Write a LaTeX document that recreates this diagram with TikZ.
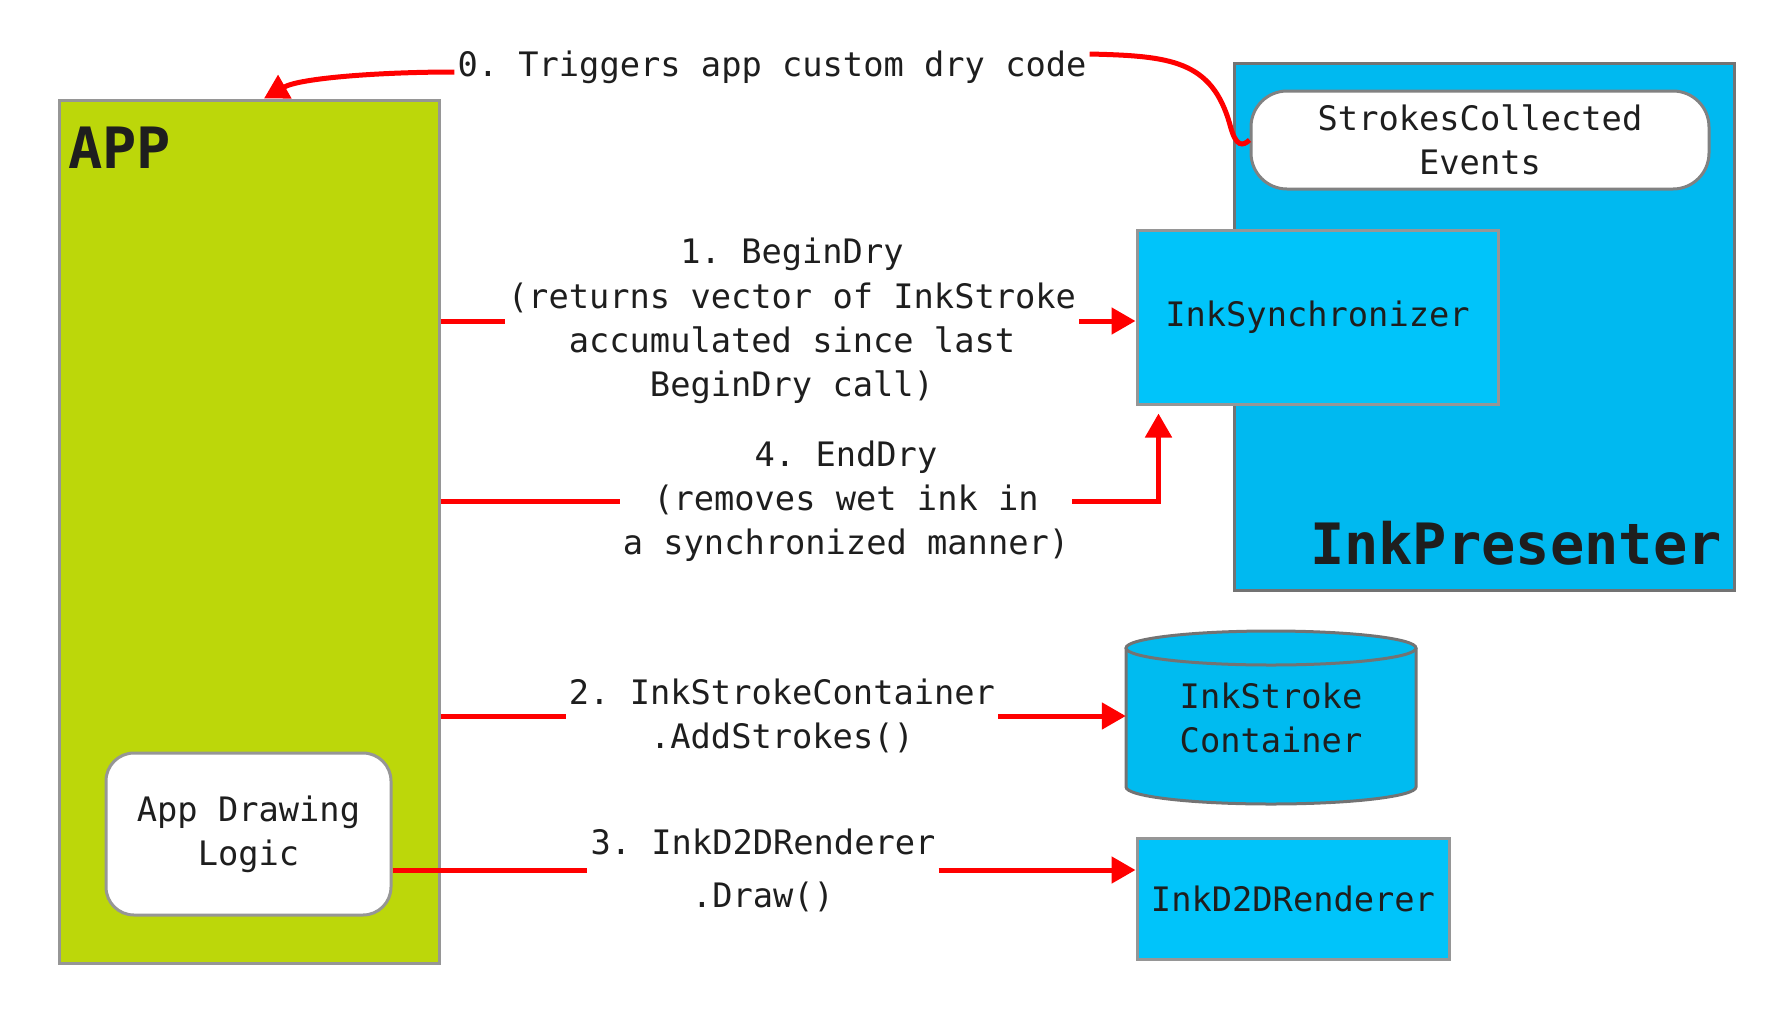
\documentclass[tikz,border=0pt]{standalone}
\usepackage{fontspec}
\setmonofont{DejaVu Sans Mono}
\usetikzlibrary{arrows.meta,calc}
\definecolor{appgreen}{RGB}{188,215,10}
\definecolor{ipblue}{RGB}{0,185,240}
\definecolor{boxblue}{RGB}{0,196,250}
\definecolor{cylblue}{RGB}{0,187,240}
\definecolor{bordergray}{RGB}{150,150,150}
\definecolor{darkgray}{RGB}{115,115,115}
\definecolor{txt}{RGB}{30,30,30}
\begin{document}
\begin{tikzpicture}[x=1pt,y=-1pt,
  mono/.style={font=\ttfamily\fontsize{33.7}{44.3}\selectfont, text=txt, align=center},
  big/.style={font=\ttfamily\bfseries\fontsize{57}{60}\selectfont, text=txt, inner sep=0pt},
  lbl/.style={mono, inner sep=3pt},
  box/.style={draw=bordergray, line width=3pt, inner sep=0pt, mono},
  conn/.style={draw=red, line width=5pt},
  arr/.style={conn, -{Triangle[length=24pt,width=26pt]}}
]
\useasboundingbox (0,0) rectangle (1783,1018);

% APP container
\node[box, fill=appgreen, minimum width=380pt, minimum height=863pt] (app) at (249,531.5) {};
\node[big, anchor=west] (applbl) at (68,148) {APP};
\node[box, fill=white, rounded corners=28pt, minimum width=285pt, minimum height=162pt] (adl) at (248.5,834) {App Drawing\\Logic};

% InkPresenter container
\node[box, draw=darkgray, fill=ipblue, minimum width=500pt, minimum height=527pt] (ip) at (1484,326.5) {};
\node[big, anchor=east] (iplbl) at (1722,543) {InkPresenter};
\node[box, draw=darkgray!90, fill=white, rounded corners=36pt, minimum width=458pt, minimum height=98pt] (sc) at (1480,140) {StrokesCollected\\Events};
\node[box, fill=boxblue, minimum width=361pt, minimum height=174pt] (sync) at (1317.5,317) {InkSynchronizer};

% InkStroke container (cylinder)
\node[inner sep=0pt, minimum width=290pt, minimum height=173pt] (cyl) at (1271,717.5) {};
\fill[cylblue] (1126,648) -- (1126,787) arc[start angle=180, end angle=0, x radius=145, y radius=17] -- (1416,648) -- cycle;
\draw[darkgray, line width=3pt] (1126,648) -- (1126,787) arc[start angle=180, end angle=0, x radius=145, y radius=17] -- (1416,648);
\filldraw[fill=cylblue, draw=darkgray, line width=3pt] (1271,648) ellipse[x radius=145, y radius=17];
\node[mono] at (1271,718) {InkStroke\\Container};

% InkD2DRenderer
\node[box, fill=boxblue, minimum width=312pt, minimum height=121pt] (d2d) at (1293,898.5) {InkD2DRenderer};

% connector labels
\node[lbl] (l0) at (772,67) {0. Triggers app custom dry code};
\node[lbl] (l1) at (792,321) {1. BeginDry\\(returns vector of InkStroke\\accumulated since last\\BeginDry call)};
\node[lbl] (l4) at (846,501) {4. EndDry\\(removes wet ink in\\a synchronized manner)};
\node[lbl] (l2) at (782,716) {2. InkStrokeContainer\\.AddStrokes()};
\node[lbl] (l3) at (763,870) {3. InkD2DRenderer\\[8.7pt].Draw()};

% connectors
\draw[conn] (sc.west) .. controls (1243,146) and (1236,148) .. (1230,125)
  .. controls (1212,60) and (1170,56) .. ($(l0.east)+(0,-13)$);
\draw[arr] ($(l0.west)+(0,5)$) .. controls (380,72) and (300,78) .. ($(app.north)+(15,0)$);

\draw[conn] (app.east |- l1) -- (l1.west);
\draw[arr] (l1.east) -- (sync.west |- l1);

\draw[conn] (app.east |- l4) -- (l4.west);
\draw[arr, shorten >=8pt] (l4.east) -| ($(sync.south west)+(23,0)$);

\draw[conn] (app.east |- l2) -- (l2.west);
\draw[arr] (l2.east) -- (cyl.west |- l2);

\draw[conn] (adl.east |- l3) -- (l3.west);
\draw[arr] (l3.east) -- (d2d.west |- l3);
\end{tikzpicture}
\end{document}
